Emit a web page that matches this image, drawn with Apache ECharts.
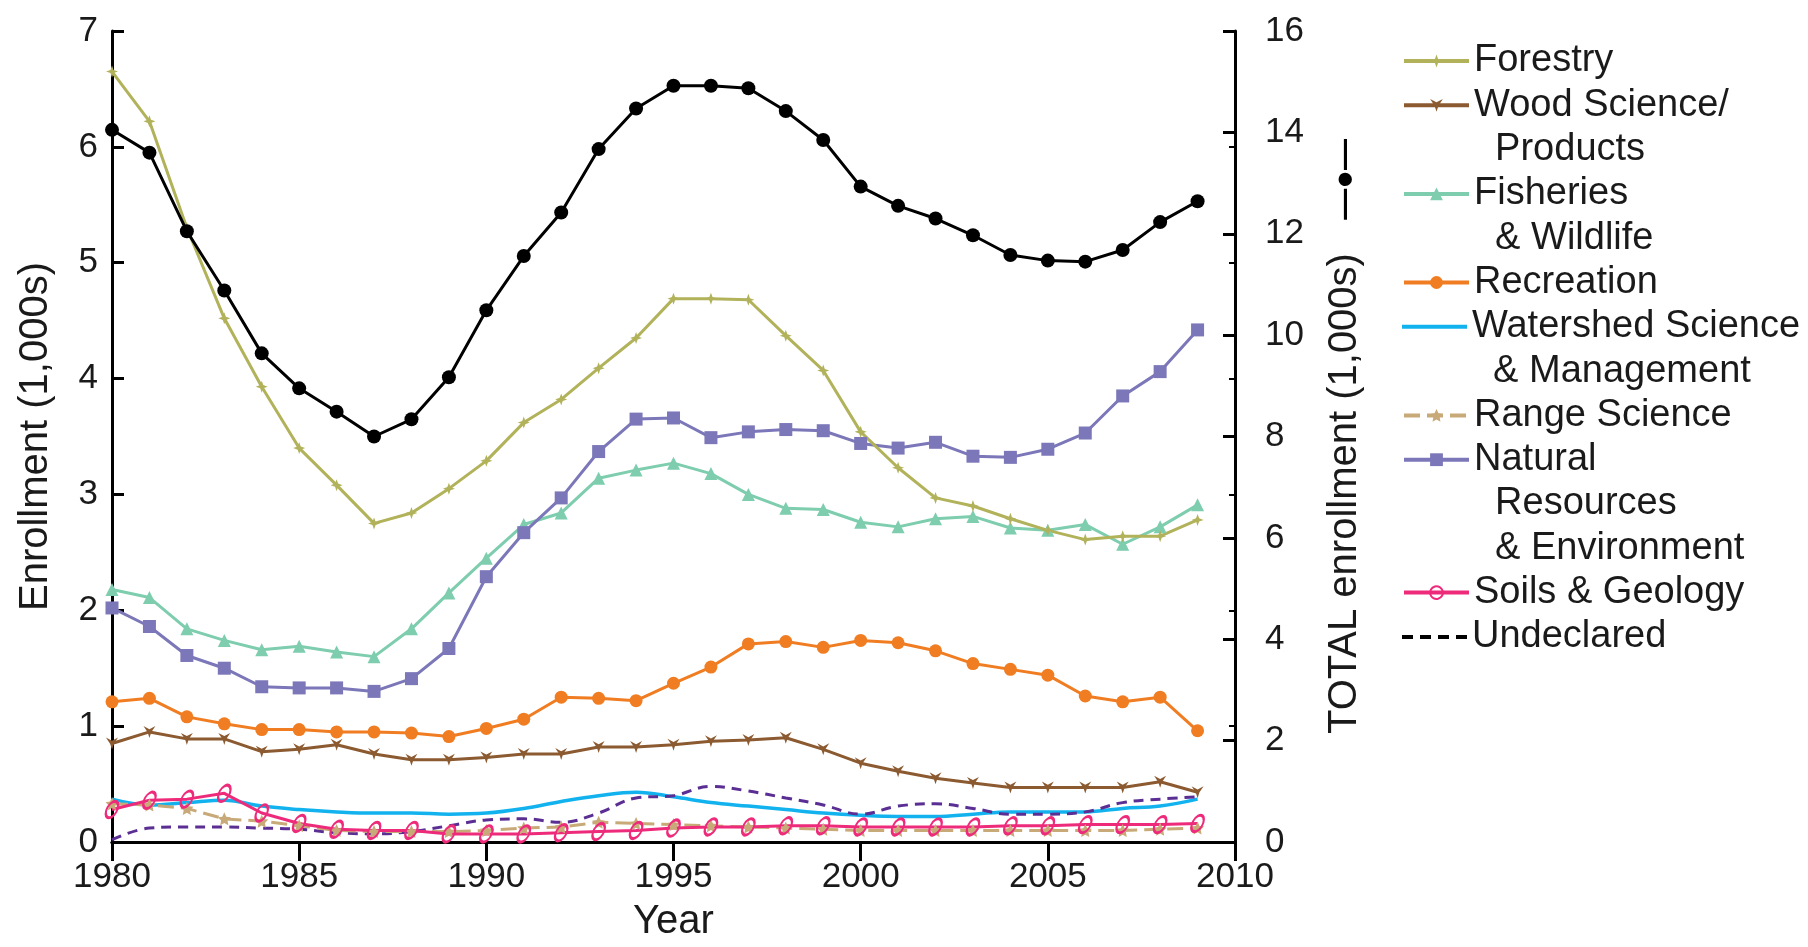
<!DOCTYPE html>
<html>
<head>
<meta charset="utf-8">
<script src="https://cdn.jsdelivr.net/npm/echarts@6/dist/echarts.min.js"></script>
<style>
html,body{margin:0;padding:0;background:#fff;}
#chart{width:1808px;height:947px;}
</style>
</head>
<body>
<div id="chart"></div>
<script>
// ---- data ----
const years = [1980,1981,1982,1983,1984,1985,1986,1987,1988,1989,1990,1991,1992,1993,1994,1995,1996,1997,1998,1999,2000,2001,2002,2003,2004,2005,2006,2007,2008,2009];
const forestry   = [6.65,6.22,5.30,4.52,3.93,3.40,3.08,2.75,2.84,3.05,3.29,3.62,3.82,4.09,4.35,4.69,4.69,4.68,4.37,4.07,3.54,3.23,2.97,2.90,2.79,2.69,2.61,2.64,2.64,2.78];
const woodSci    = [0.85,0.95,0.89,0.89,0.78,0.80,0.84,0.76,0.71,0.71,0.73,0.76,0.76,0.82,0.82,0.84,0.87,0.88,0.90,0.80,0.68,0.61,0.55,0.51,0.47,0.47,0.47,0.47,0.52,0.43];
const fisheries  = [2.18,2.11,1.84,1.74,1.66,1.69,1.64,1.60,1.84,2.15,2.45,2.74,2.84,3.14,3.21,3.27,3.18,3.00,2.88,2.87,2.76,2.72,2.79,2.81,2.71,2.69,2.74,2.57,2.72,2.91];
const recreation = [1.21,1.24,1.08,1.02,0.97,0.97,0.95,0.95,0.94,0.91,0.98,1.06,1.25,1.24,1.22,1.37,1.51,1.71,1.73,1.68,1.74,1.72,1.65,1.54,1.49,1.44,1.26,1.21,1.25,0.96];
const watershed  = [0.37,0.32,0.34,0.36,0.31,0.28,0.26,0.25,0.25,0.24,0.25,0.29,0.35,0.40,0.43,0.39,0.34,0.31,0.28,0.25,0.23,0.22,0.22,0.24,0.26,0.26,0.26,0.29,0.31,0.37];
const rangeSci   = [0.33,0.32,0.29,0.20,0.18,0.14,0.10,0.09,0.09,0.09,0.10,0.12,0.13,0.17,0.16,0.15,0.14,0.13,0.12,0.11,0.10,0.10,0.10,0.10,0.10,0.10,0.10,0.10,0.11,0.12];
const natural    = [2.02,1.86,1.61,1.50,1.34,1.33,1.33,1.30,1.41,1.67,2.29,2.67,2.97,3.37,3.65,3.66,3.49,3.54,3.56,3.55,3.44,3.40,3.45,3.33,3.32,3.39,3.53,3.85,4.06,4.42];
const soils      = [0.28,0.36,0.37,0.42,0.25,0.16,0.11,0.10,0.10,0.07,0.07,0.07,0.08,0.09,0.10,0.12,0.13,0.13,0.14,0.14,0.13,0.13,0.13,0.13,0.14,0.14,0.15,0.15,0.15,0.16];
const undeclared = [0.02,0.12,0.13,0.13,0.12,0.11,0.08,0.07,0.09,0.14,0.19,0.20,0.17,0.25,0.38,0.40,0.48,0.44,0.38,0.32,0.24,0.31,0.33,0.29,0.24,0.24,0.26,0.34,0.37,0.39];
const total      = [14.05,13.60,12.05,10.88,9.64,8.95,8.49,8.00,8.34,9.17,10.49,11.56,12.42,13.67,14.47,14.92,14.92,14.87,14.42,13.85,12.93,12.55,12.30,11.97,11.58,11.47,11.45,11.68,12.23,12.64];

const xTicks = [1980,1985,1990,1995,2000,2005,2010];
const leftTicks = [0,1,2,3,4,5,6,7];
const rightTicks = [0,2,4,6,8,10,12,14,16];

// ---- styling ----
const FONT = 'Liberation Sans, Arial, Helvetica, sans-serif';
const pts = arr => arr.map((v,i)=>[years[i], v]);

const SYM_FOREST = 'path://M0,-10 L2.6,-2.6 10,0 2.6,2.6 0,10 -2.6,2.6 -10,0 -2.6,-2.6 Z';
const SYM_WOOD = 'path://M-10,-5 L0,-1 10,-5 3,3 0,10 -3,3 Z';
const SYM_STAR = 'path://M0,-10 L2.9,-4 9.5,-3.1 4.7,1.5 5.9,8.1 0,5 -5.9,8.1 -4.7,1.5 -9.5,-3.1 -2.9,-4 Z';
const SYM_OVAL = 'path://M0,-10 A5,10 0 1,1 0,10 A5,10 0 1,1 0,-10 Z';
const ICON_SOLID = 'path://M0,0 L65,0 L65,4 L0,4 Z';
const ICON_DASH = 'path://M0,0 h11 v4 h-11 Z M18,0 h11 v4 h-11 Z M36,0 h11 v4 h-11 Z M54,0 h11 v4 h-11 Z';

const L = 44.3;      // legend line pitch
const ROW0 = 61;     // first legend row centre

const seriesDefs = [
  {name:'Watershed Science\n  & Management', data:watershed, color:'#12b2ee', symbol:'none', width:3.5, smooth:0.4, row:6, lines:2, icon:ICON_SOLID},
  {name:'Undeclared', data:undeclared, color:'#5b2e94', symbol:'none', width:3, dash:[10,7], smooth:0.4, row:13, lines:1, icon:ICON_DASH, iconColor:'#000'},
  {name:'Range Science', data:rangeSci, color:'#c8aa78', symbol:SYM_STAR, size:13, width:3, dash:[16,7], row:8, lines:1},
  {name:'Soils & Geology', data:soils, color:'#ee2a7b', symbol:SYM_OVAL, size:[10,18], rotate:-30, hollow:true, width:3, row:12, lines:1},
  {name:'Wood Science/\n  Products', data:woodSci, color:'#8c5a30', symbol:SYM_WOOD, size:12, width:3, row:1, lines:2},
  {name:'Recreation', data:recreation, color:'#f07d22', symbol:'circle', size:13, width:3, row:5, lines:1},
  {name:'Fisheries\n  & Wildlife', data:fisheries, color:'#7dcdae', symbol:'triangle', size:13, width:3, row:3, lines:2},
  {name:'Natural\n  Resources\n  & Environment', data:natural, color:'#7b77b9', symbol:'rect', size:13, width:3, row:9, lines:3},
  {name:'Forestry', data:forestry, color:'#b1b25a', symbol:SYM_FOREST, size:12, width:3, row:0, lines:1}
];

const series = seriesDefs.map(d => ({
  name: d.name,
  type: 'line',
  xAxisIndex: 0,
  yAxisIndex: 0,
  data: pts(d.data),
  smooth: d.smooth || false,
  symbol: d.symbol,
  symbolSize: d.size || 10,
  symbolRotate: d.rotate || 0,
  showSymbol: d.symbol !== 'none',
  lineStyle: {color: d.color, width: d.width, type: d.dash || 'solid'},
  itemStyle: d.hollow ? {color:'rgba(0,0,0,0)', borderColor:d.color, borderWidth:2.5} : {color:d.color, borderColor:d.color, borderWidth:0},
  emphasis: {disabled: true},
  animation: false
}));

series.push({
  name: 'TOTAL',
  type: 'line',
  xAxisIndex: 0,
  yAxisIndex: 1,
  data: pts(total),
  symbol: 'circle',
  symbolSize: 14,
  lineStyle: {color:'#000', width:3},
  itemStyle: {color:'#000'},
  emphasis: {disabled: true},
  animation: false,
  z: 5
});

const legends = seriesDefs.map(d => {
  const c1 = ROW0 + d.row * L;
  const lg = {
    orient: 'vertical',
    left: 1402,
    top: c1 - (d.lines - 0.5) * L,
    padding: 0,
    itemWidth: 65,
    itemHeight: d.icon ? 4 : 16,
    selectedMode: false,
    data: [d.name],
    formatter: name => '\n'.repeat(d.lines - 1) + name,
    lineStyle: {width: 4},
    textStyle: {fontFamily: FONT, fontSize: 38, color: '#1a1a1a', lineHeight: L}
  };
  if (d.icon) {
    lg.icon = d.icon;
    if (d.iconColor) lg.itemStyle = {color: d.iconColor, borderWidth: 0};
  }
  return lg;
});

const axisLine = {show:true, lineStyle:{color:'#000', width:3}};

const option = {
  backgroundColor: '#fff',
  animation: false,
  textStyle: {fontFamily: FONT},
  grid: {left:112, right:573, top:31, bottom:103, containLabel:false},
  legend: legends,
  xAxis: [
    {
      type:'value', position:'bottom', min:xTicks[0], max:xTicks[xTicks.length-1], interval:5,
      axisLine: axisLine,
      axisTick: {show:false},
      splitLine: {show:false},
      axisLabel: {fontSize:35, color:'#1a1a1a', margin:18, fontFamily:FONT, formatter: v => String(v)},
      name: 'Year', nameLocation:'middle', nameGap:60,
      nameTextStyle: {fontSize:40, color:'#1a1a1a', fontFamily:FONT}
    },
    {
      type:'value', position:'top', min:xTicks[0], max:xTicks[xTicks.length-1], interval:5,
      axisLine: axisLine,
      axisTick: {show:true, inside:true, length:19, lineStyle:{color:'#000', width:3}},
      splitLine: {show:false},
      axisLabel: {show:false}
    }
  ],
  yAxis: [
    {
      type:'value', position:'left', min:leftTicks[0], max:leftTicks[leftTicks.length-1], interval:1,
      axisLine: axisLine,
      axisTick: {show:true, inside:true, length:12, lineStyle:{color:'#000', width:3}},
      splitLine: {show:false},
      axisLabel: {fontSize:35, color:'#1a1a1a', margin:14, fontFamily:FONT},
      name: 'Enrollment (1,000s)', nameLocation:'middle', nameGap:56, nameRotate:90,
      nameTextStyle: {fontSize:40, color:'#1a1a1a', fontFamily:FONT}
    },
    {
      type:'value', position:'right', min:rightTicks[0], max:rightTicks[rightTicks.length-1], interval:2,
      axisLine: axisLine,
      axisTick: {show:true, inside:true, length:12, lineStyle:{color:'#000', width:3}},
      splitLine: {show:false},
      axisLabel: {fontSize:35, color:'#1a1a1a', margin:30, fontFamily:FONT},
      name: 'TOTAL enrollment (1,000s)   {g|—●—}', nameLocation:'middle', nameGap:90, nameRotate:90,
      nameTextStyle: {fontSize:40, color:'#1a1a1a', fontFamily:FONT,
        rich: {g: {fontSize:31, fontWeight:'bold', color:'#000', fontFamily:FONT}}}
    },
    {
      type:'value', position:'right', min:leftTicks[0], max:leftTicks[leftTicks.length-1], interval:1,
      axisLine: {show:false},
      axisTick: {show:true, inside:true, length:6, lineStyle:{color:'#000', width:2}},
      splitLine: {show:false},
      axisLabel: {show:false}
    }
  ],
  series: series
};

const chart = echarts.init(document.getElementById('chart'), null, {renderer:'canvas'});
chart.setOption(option);
</script>
</body>
</html>
